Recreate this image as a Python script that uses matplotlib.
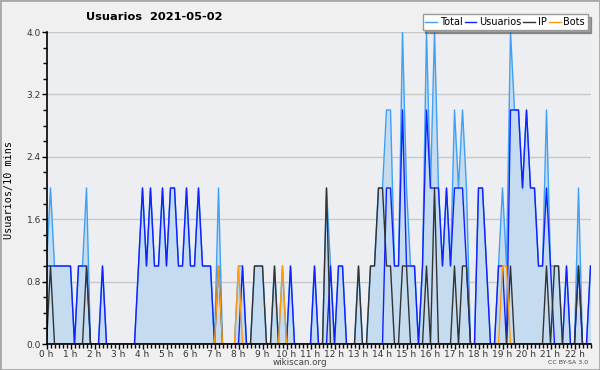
import numpy as np
import matplotlib
matplotlib.use("Agg")
import matplotlib.pyplot as plt
from matplotlib.patches import Rectangle

# values per 10 minutes, 0h00 .. 22h40
total = [1, 2, 1, 1, 1, 1, 1, 0, 1, 1, 2, 0, 0, 0, 1, 0, 0, 0, 0, 0,
         0, 0, 0, 1, 2, 1, 2, 1, 1, 2, 1, 2, 2, 1, 1, 2, 1, 1, 2, 1,
         1, 1, 0, 2, 0, 0, 0, 0, 1, 1, 0, 0, 1, 1, 1, 0, 0, 1, 0, 1,
         0, 1, 0, 0, 0, 0, 0, 1, 0, 0, 2, 1, 0, 1, 1, 0, 0, 0, 1, 0,
         0, 1, 1, 2, 2, 3, 3, 1, 1, 4, 2, 1, 1, 0, 1, 4, 2, 4, 2, 1,
         2, 1, 3, 2, 3, 2, 0, 0, 2, 2, 1, 0, 0, 1, 2, 1, 4, 3, 3, 2,
         3, 2, 2, 1, 1, 3, 1, 1, 1, 0, 1, 0, 0, 2, 0, 0, 1]
usuarios = [1, 1, 1, 1, 1, 1, 1, 0, 1, 1, 1, 0, 0, 0, 1, 0, 0, 0, 0, 0,
            0, 0, 0, 1, 2, 1, 2, 1, 1, 2, 1, 2, 2, 1, 1, 2, 1, 1, 2, 1,
            1, 1, 0, 0, 0, 0, 0, 0, 0, 1, 0, 0, 0, 0, 0, 0, 0, 0, 0, 0,
            0, 1, 0, 0, 0, 0, 0, 1, 0, 0, 0, 1, 0, 1, 1, 0, 0, 0, 0, 0,
            0, 0, 0, 0, 0, 2, 2, 1, 1, 3, 1, 1, 1, 0, 1, 3, 2, 2, 2, 1,
            2, 1, 2, 2, 2, 1, 0, 0, 2, 2, 1, 0, 0, 1, 1, 0, 3, 3, 3, 2,
            3, 2, 2, 1, 1, 2, 1, 0, 0, 0, 1, 0, 0, 1, 0, 0, 1]
ip = [0, 1, 0, 0, 0, 0, 0, 0, 0, 0, 1, 0, 0, 0, 0, 0, 0, 0, 0, 0,
      0, 0, 0, 0, 0, 0, 0, 0, 0, 0, 0, 0, 0, 0, 0, 0, 0, 0, 0, 0,
      0, 0, 0, 1, 0, 0, 0, 0, 0, 0, 0, 0, 1, 1, 1, 0, 0, 1, 0, 0,
      0, 0, 0, 0, 0, 0, 0, 0, 0, 0, 2, 0, 0, 0, 0, 0, 0, 0, 1, 0,
      0, 1, 1, 2, 2, 1, 1, 0, 0, 1, 1, 0, 0, 0, 0, 1, 0, 2, 0, 0,
      0, 0, 1, 0, 1, 1, 0, 0, 0, 0, 0, 0, 0, 0, 0, 0, 1, 0, 0, 0,
      0, 0, 0, 0, 0, 1, 0, 1, 1, 0, 0, 0, 0, 1, 0, 0, 0]
bots = [0, 0, 0, 0, 0, 0, 0, 0, 0, 0, 0, 0, 0, 0, 0, 0, 0, 0, 0, 0,
        0, 0, 0, 0, 0, 0, 0, 0, 0, 0, 0, 0, 0, 0, 0, 0, 0, 0, 0, 0,
        0, 0, 0, 1, 0, 0, 0, 0, 1, 0, 0, 0, 0, 0, 0, 0, 0, 0, 0, 1,
        0, 0, 0, 0, 0, 0, 0, 0, 0, 0, 0, 0, 0, 0, 0, 0, 0, 0, 0, 0,
        0, 0, 0, 0, 0, 0, 0, 0, 0, 0, 0, 0, 0, 0, 0, 0, 0, 0, 0, 0,
        0, 0, 0, 0, 0, 0, 0, 0, 0, 0, 0, 0, 0, 0, 1, 1, 0, 0, 0, 0,
        0, 0, 0, 0, 0, 0, 0, 0, 0, 0, 0, 0, 0, 0, 0, 0, 0]
hour_labels = ["%d h" % h for h in range(23)]
y_ticks = [0.0, 0.8, 1.6, 2.4, 3.2, 4.0]

x = np.arange(len(total))

fig = plt.figure(figsize=(6, 3.7), dpi=100, facecolor="#f0f0f0")
fig.patches.append(Rectangle((0, 0), 1, 1, transform=fig.transFigure,
                             fill=False, edgecolor="#a8a8a8", linewidth=2))
ax = fig.add_axes([46.5/600, 1 - 344/370, 544/600, 312/370])
ax.set_facecolor("#eceef1")

ax.fill_between(x, 0, total, color="#c5dcf0", linewidth=0)
ax.plot(x, total, color="#3fa0f5", lw=1.0, label="Total")
ax.plot(x, usuarios, color="#1020ff", lw=1.0, label="Usuarios")
ax.plot(x, ip, color="#333333", lw=1.0, label="IP")
ax.plot(x, bots, color="#ff9a10", lw=1.0, label="Bots")

ax.set_xlim(0, len(total) - 1)
ax.set_ylim(0, 4)
ax.set_yticks(y_ticks)
ax.set_yticklabels(["%.1f" % v for v in y_ticks])
ax.set_yticks(np.arange(0, 4.01, 0.2), minor=True)
ax.set_xticks(np.arange(0, 23) * 6)
ax.set_xticklabels(hour_labels)
ax.set_xticks(x, minor=True)
ax.grid(axis="y", color="#c8c8c8", lw=1.0)
ax.set_axisbelow(True)
for s in ["top", "right"]:
    ax.spines[s].set_visible(False)
for s in ["left", "bottom"]:
    ax.spines[s].set_linewidth(1.2)
ax.tick_params(which="major", length=3.5, width=1.0, labelsize=6.5, pad=0.5,
               colors="black", labelcolor="#333333")
ax.tick_params(which="minor", length=3, width=1.0)

fig.text(86/600, 1 - 17/370, "Usuarios  2021-05-02", fontsize=8.2,
         fontweight="bold", va="center", ha="left")
fig.text(9/600, 1 - 190/370, "Usuarios/10 mins", rotation=90, fontsize=7.3,
         family="DejaVu Sans Mono", va="center", ha="center")
fig.text(300/600, 1 - 362.5/370, "wikiscan.org", fontsize=6.3,
         color="#444444", va="center", ha="center")
fig.text(588/600, 1 - 362.5/370, "CC BY-SA 3.0", fontsize=4.5,
         color="#444444", va="center", ha="right")

leg = ax.legend(loc="upper right", bbox_to_anchor=(588/600, 1 - 14/370),
                bbox_transform=fig.transFigure, ncol=4, fontsize=7,
                frameon=True, fancybox=False, shadow=True, borderpad=0.3,
                handlelength=1.2, handletextpad=0.3, columnspacing=0.2,
                borderaxespad=0)
leg.get_frame().set_edgecolor("#999999")
leg.get_frame().set_linewidth(1.0)

fig.savefig("out.png", dpi=100, facecolor=fig.get_facecolor())
